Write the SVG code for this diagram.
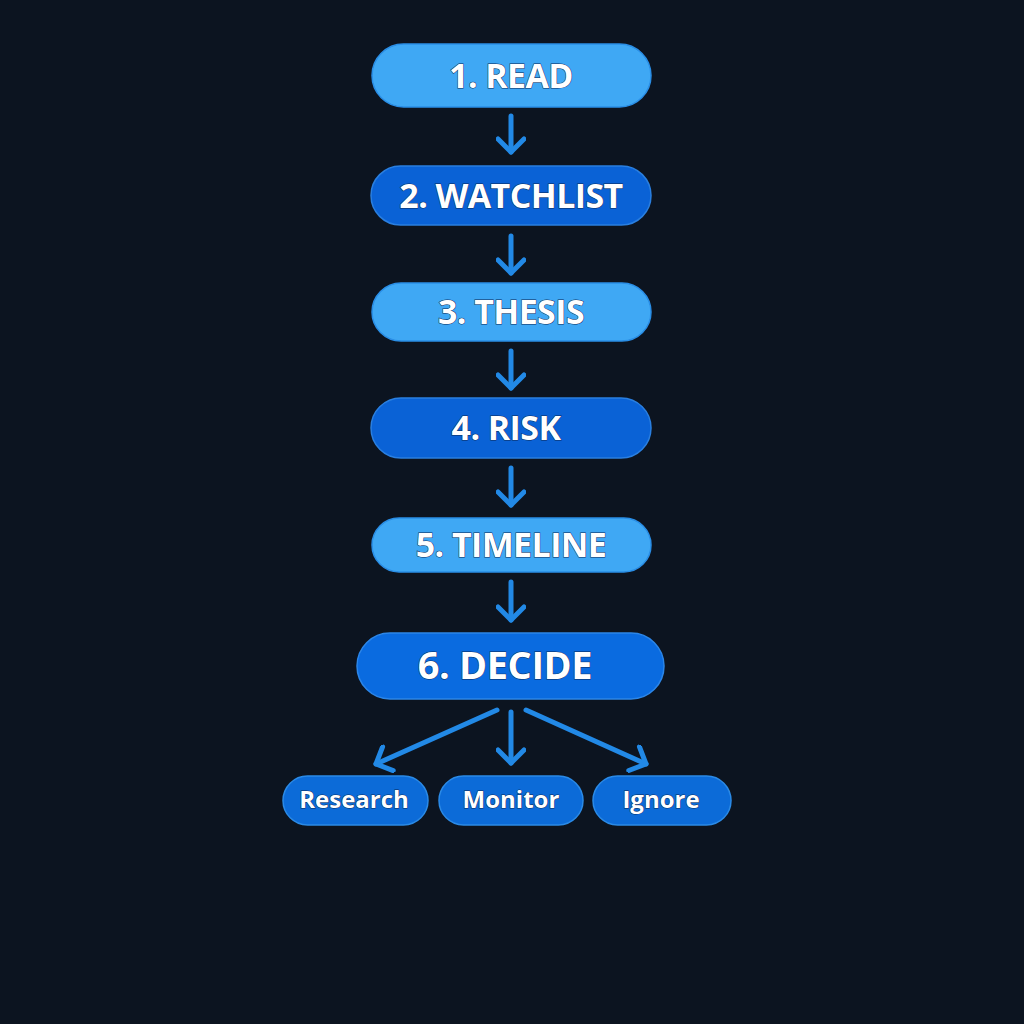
<svg xmlns="http://www.w3.org/2000/svg" width="1024" height="1024" viewBox="0 0 1024 1024">
<defs>
<marker id="ah" viewBox="0 0 30 30" refX="24" refY="15" markerWidth="30" markerHeight="30" markerUnits="userSpaceOnUse" orient="auto">
<path d="M11 2 L24 15 L11 28" fill="none" stroke="#2289e6" stroke-width="5" stroke-linecap="round" stroke-linejoin="round"/>
</marker>
</defs>
<style>
.light{fill:#3fa8f4;stroke:#2a8ee6;stroke-width:1.5}
.dark{fill:#0a62d6;stroke:#2a7fe0;stroke-width:1.5}
.mid{fill:#0a6be0;stroke:#2c86e8;stroke-width:1.5}
.sub{fill:#0c6bd8;stroke:#2b8ae6;stroke-width:1.5}
.t{font-family:"Open Sans","Noto Sans",sans-serif;font-weight:700;fill:#ffffff;text-anchor:middle;stroke:#0a2a5a;stroke-width:1;paint-order:stroke}
.big{font-size:34px;letter-spacing:-0.6px}
.big6{font-size:38px;letter-spacing:-0.4px}
.small{font-size:24px}
.c{stroke:#2289e6;stroke-width:5;fill:none;stroke-linecap:round;marker-end:url(#ah)}
</style>
<rect width="1024" height="1024" fill="#0c1420"/>
<g id="connectors">
<line class="c" x1="511" y1="116" x2="511" y2="152"/>
<line class="c" x1="511" y1="236" x2="511" y2="273"/>
<line class="c" x1="511" y1="351" x2="511" y2="388"/>
<line class="c" x1="511" y1="468" x2="511" y2="505"/>
<line class="c" x1="511" y1="582" x2="511" y2="620"/>
<line class="c" x1="497" y1="710" x2="376" y2="764"/>
<line class="c" x1="511" y1="712" x2="511" y2="763"/>
<line class="c" x1="526" y1="710" x2="646" y2="764"/>
</g>
<g id="n1"><rect class="light" x="372" y="44" width="279" height="63" rx="31.5"/><text class="t big" x="511" y="88">1. READ</text></g>
<g id="n2"><rect class="dark" x="371" y="166" width="280" height="59" rx="29.5"/><text class="t big" x="511" y="208">2. WATCHLIST</text></g>
<g id="n3"><rect class="light" x="372" y="283" width="279" height="58" rx="29"/><text class="t big" x="511" y="324">3. THESIS</text></g>
<g id="n4"><rect class="dark" x="371" y="398" width="280" height="60" rx="30"/><text class="t big" x="506" y="440">4. RISK</text></g>
<g id="n5"><rect class="light" x="372" y="518" width="279" height="54" rx="27"/><text class="t big" x="511" y="557">5. TIMELINE</text></g>
<g id="n6"><rect class="mid" x="357" y="633" width="307" height="66" rx="33"/><text class="t big6" x="505" y="679">6. DECIDE</text></g>
<g id="n7"><rect class="sub" x="283" y="776" width="145" height="49" rx="24.5"/><text class="t small" x="354" y="808">Research</text></g>
<g id="n8"><rect class="sub" x="439" y="776" width="144" height="49" rx="24.5"/><text class="t small" x="511" y="808">Monitor</text></g>
<g id="n9"><rect class="sub" x="593" y="776" width="138" height="49" rx="24.5"/><text class="t small" x="661" y="808">Ignore</text></g>
</svg>
